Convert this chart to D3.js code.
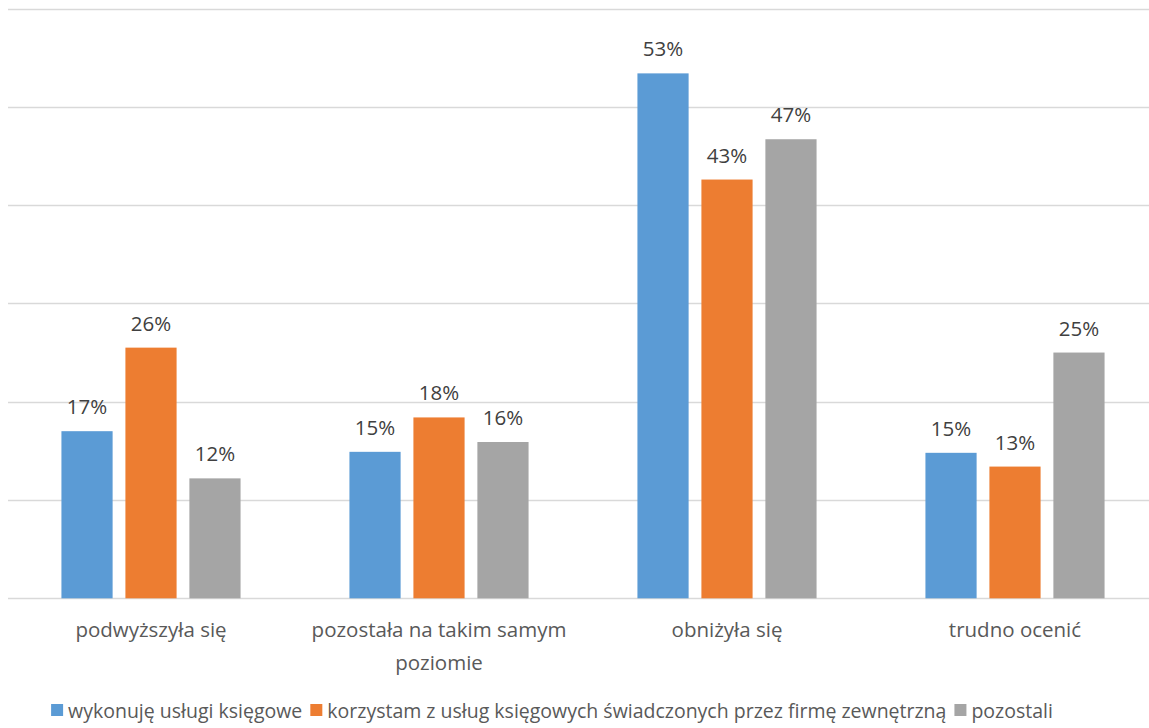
<!DOCTYPE html>
<html>
<head>
<meta charset="utf-8">
<script src="https://cdn.jsdelivr.net/npm/d3@7"></script>
<style>
  html, body { margin: 0; padding: 0; background: #fff; }
  svg { display: block; font-family: "Open Sans", "Noto Sans", sans-serif; }
</style>
</head>
<body>
<svg id="chart" width="1149" height="728"></svg>
<script>
const categories = ["podwyższyła się", "pozostała na takim samym poziomie", "obniżyła się", "trudno ocenić"];
const seriesNames = ["wykonuję usługi księgowe", "korzystam z usług księgowych świadczonych przez firmę zewnętrzną", "pozostali"];
const valuesWykonuje = [17.0, 14.9, 53.4, 14.8];
const valuesKorzystam = [25.5, 18.4, 42.6, 13.4];
const valuesPozostali = [12.2, 15.9, 46.7, 25.0];
const yTicks = [0, 10, 20, 30, 40, 50, 60];
const colors = ["#5B9BD5", "#ED7D31", "#A5A5A5"];

const series = [valuesWykonuje, valuesKorzystam, valuesPozostali];
const svg = d3.select("#chart");

const plot = { left: 7, right: 1159, top: 8.5, bottom: 598.3 };

const y = d3.scaleLinear().domain([0, 60]).range([plot.bottom, plot.top]);
const x0 = d3.scaleBand().domain(categories).range([plot.left, plot.right]).paddingInner(0.378).paddingOuter(0.189);
const x1 = d3.scaleBand().domain(d3.range(series.length)).range([0, x0.bandwidth()]).paddingInner(0.2).paddingOuter(0);

// gridlines
svg.append("g").selectAll("line").data(yTicks).join("line")
  .attr("x1", 8).attr("x2", 1149)
  .attr("y1", d => Math.round(y(d)) + 0.5).attr("y2", d => Math.round(y(d)) + 0.5)
  .attr("stroke", "#D9D9D9").attr("stroke-width", 1.5);

// bars
const groups = svg.append("g").selectAll("g").data(categories).join("g")
  .attr("transform", c => `translate(${x0(c)},0)`);

groups.selectAll("rect").data((c, ci) => series.map((s, si) => ({ si, v: s[ci] })))
  .join("rect")
  .attr("x", d => x1(d.si))
  .attr("width", x1.bandwidth())
  .attr("y", d => y(d.v))
  .attr("height", d => y(0) - y(d.v))
  .attr("fill", d => colors[d.si]);

groups.selectAll("text").data((c, ci) => series.map((s, si) => ({ si, v: s[ci] })))
  .join("text")
  .attr("x", d => x1(d.si) + x1.bandwidth() / 2)
  .attr("y", d => y(d.v) - 17)
  .attr("text-anchor", "middle")
  .attr("font-size", 20.5)
  .attr("fill", "#404040")
  .text(d => d3.format(".0f")(d.v) + "%");

// category axis labels with wrapping
const xAxis = svg.append("g");
categories.forEach(c => {
  const cx = x0(c) + x0.bandwidth() / 2;
  const t = xAxis.append("text")
    .attr("x", cx)
    .attr("y", 637)
    .attr("text-anchor", "middle")
    .attr("font-size", 20.5)
    .attr("fill", "#595959");
  const words = c.split(" ");
  let line = [];
  let tspan = t.append("tspan").attr("x", cx).attr("dy", 0);
  words.forEach(w => {
    line.push(w);
    tspan.text(line.join(" "));
    if (tspan.node().getComputedTextLength() > 275 && line.length > 1) {
      line.pop();
      tspan.text(line.join(" "));
      line = [w];
      tspan = t.append("tspan").attr("x", cx).attr("dy", 33).text(w);
    }
  });
});

// legend
const legend = svg.append("g");
const items = [];
seriesNames.forEach((name, i) => {
  const g = legend.append("g");
  g.append("rect").attr("x", 0).attr("y", 704).attr("width", 12).attr("height", 12).attr("fill", colors[i]);
  const t = g.append("text").attr("x", 17).attr("y", 718).attr("font-size", 19.5).attr("fill", "#595959").text(name);
  const w = 17 + t.node().getComputedTextLength();
  items.push({ g, w });
});
const gapL = 8;
const total = d3.sum(items, d => d.w) + gapL * (items.length - 1);
let start = 552 - total / 2;
items.forEach(it => {
  it.g.attr("transform", `translate(${start},0)`);
  start += it.w + gapL;
});
</script>
</body>
</html>
